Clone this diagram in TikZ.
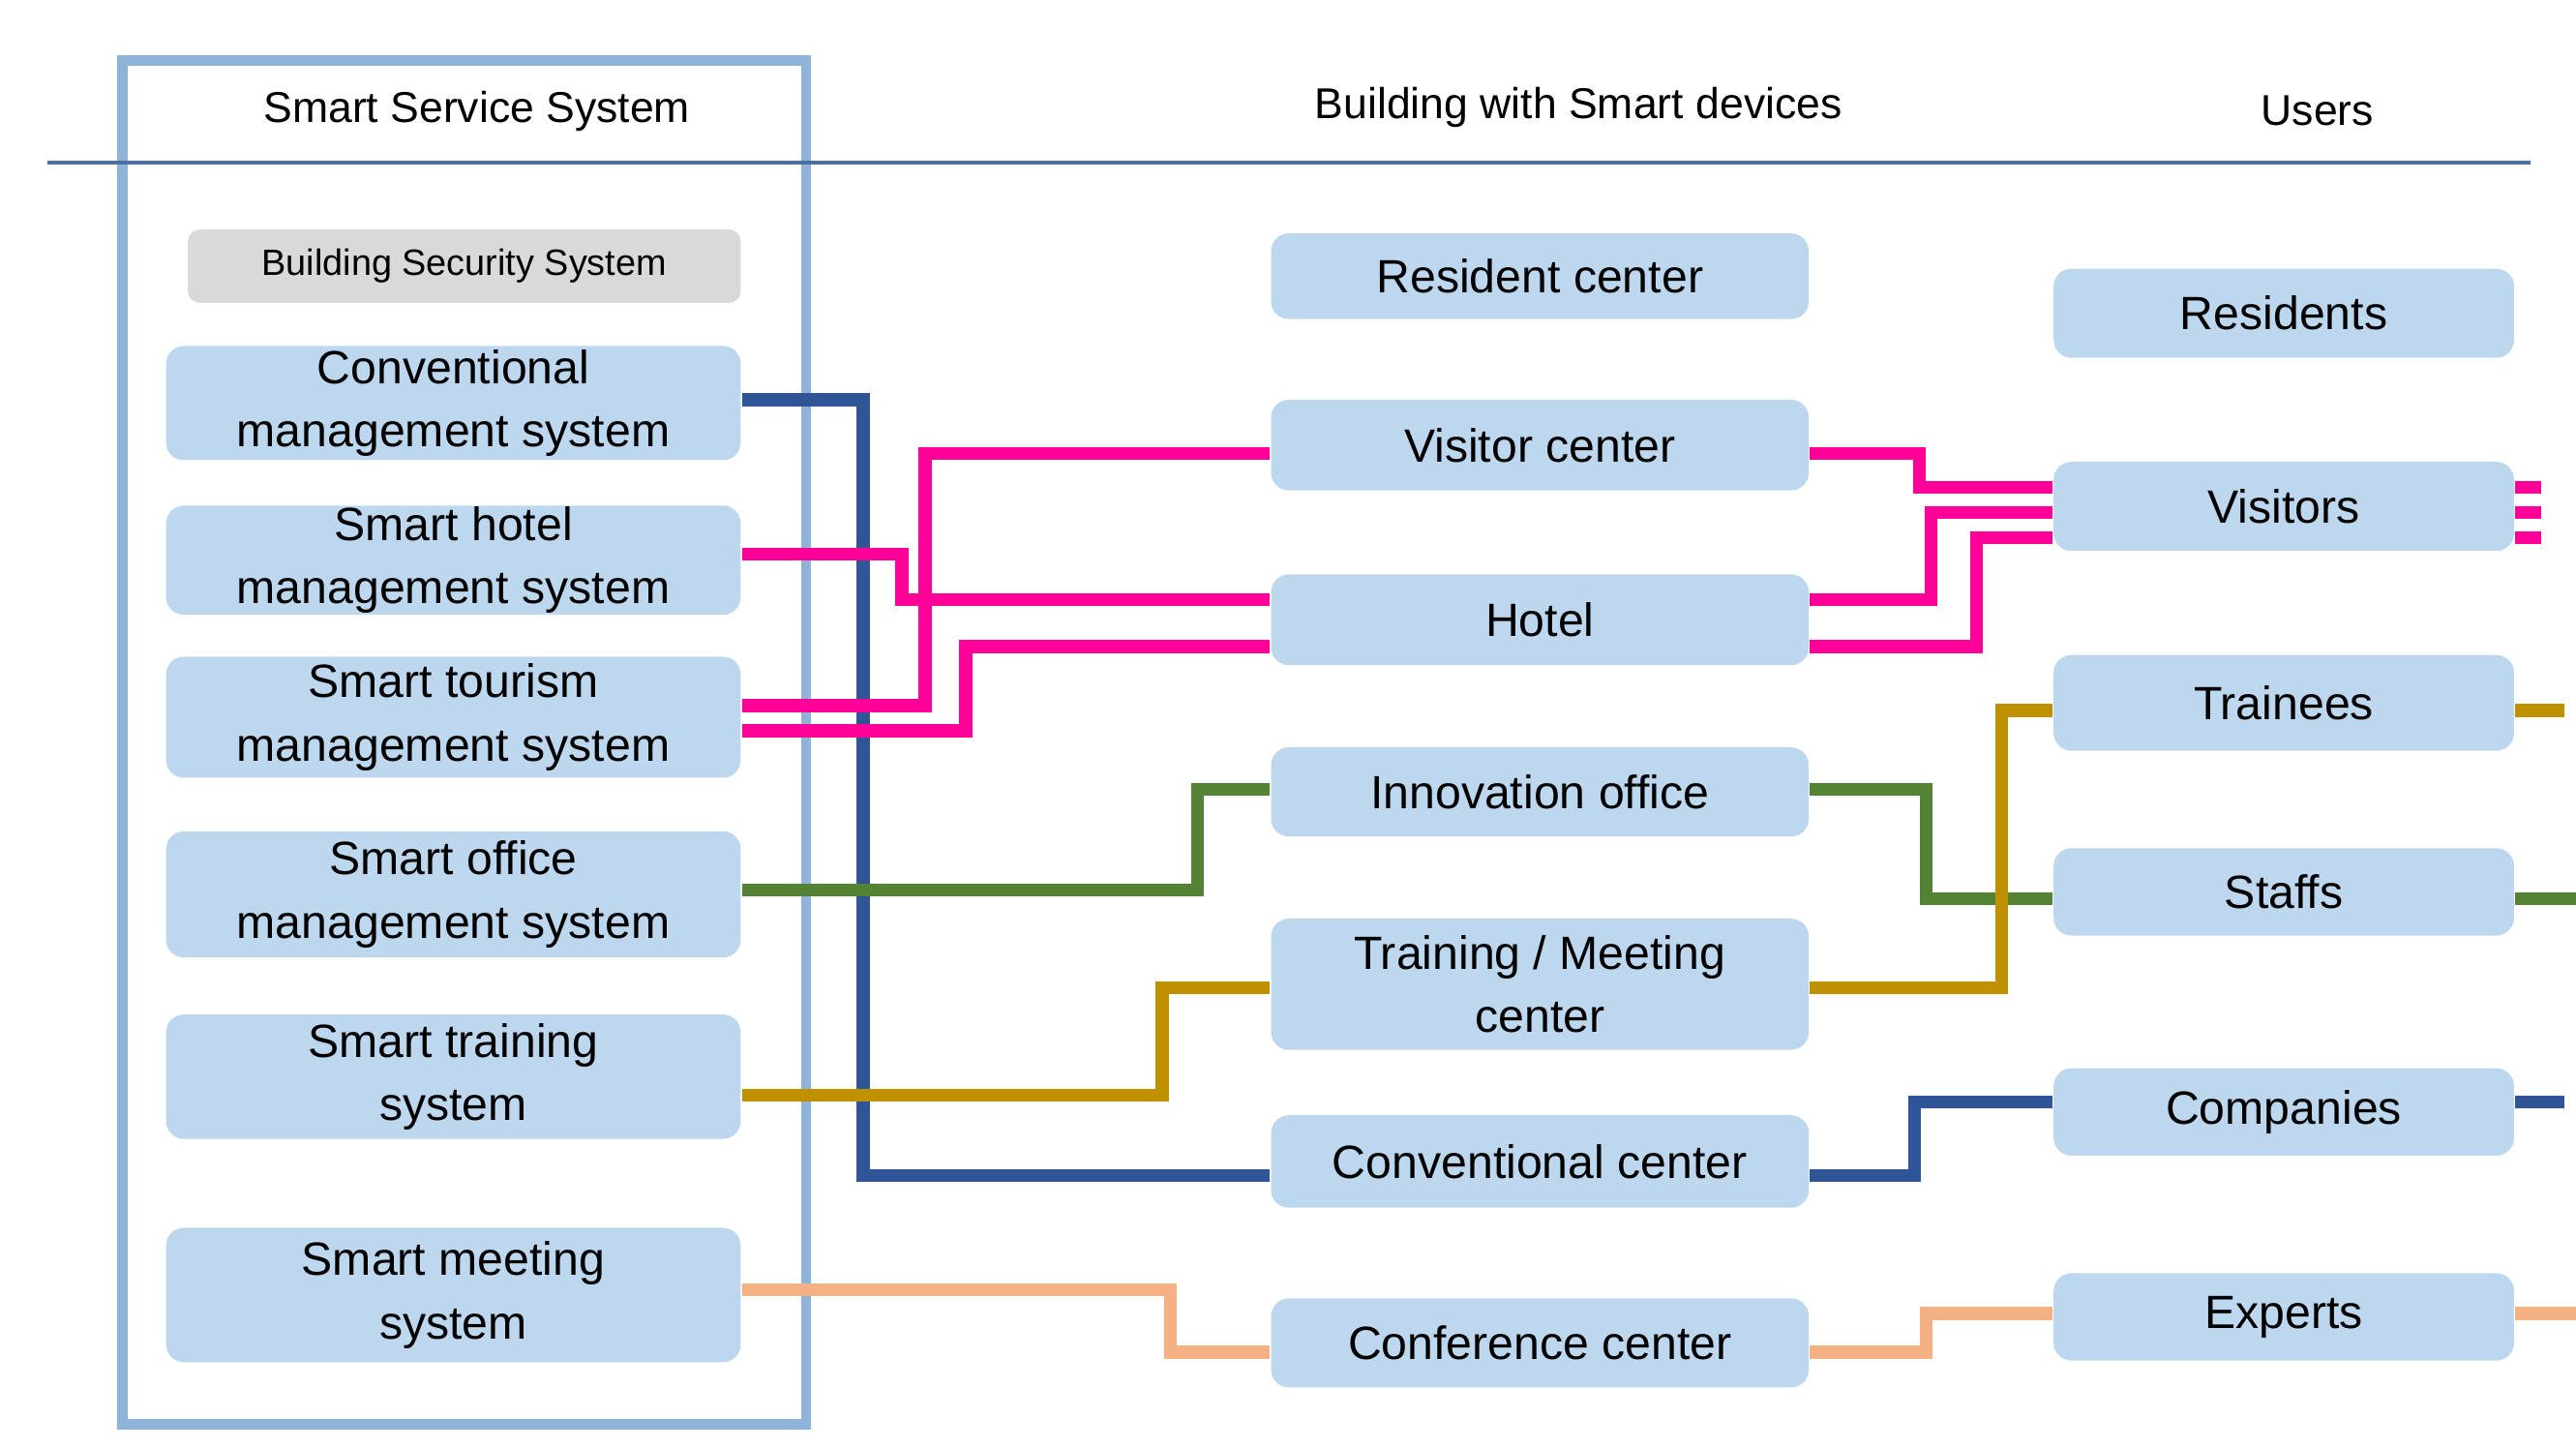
\documentclass[tikz,border=0pt]{standalone}
\usepackage{fontspec}
\setmainfont{Liberation Sans}
\begin{document}
\begin{tikzpicture}[x=0.01cm,y=-0.01cm,
 box/.style={fill=boxblue,rounded corners=3pt,inner sep=0pt,align=center,font=\fontsize{7.9}{10.7}\selectfont},
 con/.style={line width=2.2pt},
 hdr/.style={font=\fontsize{7.3}{9}\selectfont}]
\definecolor{boxblue}{HTML}{BDD7EE}
\definecolor{frameblue}{HTML}{8FB4DA}
\definecolor{navy}{HTML}{2F5597}
\definecolor{pinkc}{HTML}{FF0099}
\definecolor{greenc}{HTML}{548235}
\definecolor{goldc}{HTML}{BF9000}
\definecolor{peach}{HTML}{F4B183}
\definecolor{lineblue}{HTML}{4A6FA0}
\useasboundingbox (0,0) rectangle (1534,862.6);
\draw[frameblue,line width=1.7pt] (73,36) rectangle (480,848);
\draw[lineblue,line width=0.6pt] (28,97) -- (1507,97);
\node[hdr] (h1) at (284,66) {Smart Service System};
\node[hdr] (h2) at (940,64) {Building with Smart devices};
\node[hdr] (h3) at (1380,66) {Users};
\node[fill=gray!30,rounded corners=2pt,minimum width=3.29cm,minimum height=0.39cm,font=\fontsize{6.2}{7}\selectfont] (bss) at (276.5,158.5) {Building Security System};
\newcommand{\lbox}[3]{\node[box,minimum width=3.42cm,minimum height=#2] (#1) at (270,#3)}
\lbox{l1}{0.68cm}{240}{Conventional\\management system};
\lbox{l2}{0.65cm}{333.5}{Smart hotel\\management system};
\lbox{l3}{0.72cm}{427}{Smart tourism\\management system};
\lbox{l4}{0.75cm}{532.5}{Smart office\\management system};
\lbox{l5}{0.74cm}{641}{Smart training\\system};
\lbox{l6}{0.80cm}{771}{Smart meeting\\system};
\newcommand{\midbox}[3]{\node[box,minimum width=3.2cm,minimum height=#2] (#1) at (917,#3)}
\midbox{m1}{0.51cm}{164.5}{Resident  center};
\midbox{m2}{0.54cm}{265}{Visitor center};
\midbox{m3}{0.54cm}{369}{Hotel};
\midbox{m4}{0.53cm}{471.5}{Innovation  office};
\midbox{m5}{0.78cm}{586}{Training / Meeting\\center};
\midbox{m6}{0.55cm}{691.5}{Conventional  center};
\midbox{m7}{0.53cm}{799.5}{Conference  center};
\newcommand{\rbox}[3]{\node[box,minimum width=2.74cm,minimum height=#2] (#1) at (1360,#3)}
\rbox{r1}{0.53cm}{186.5}{Residents};
\rbox{r2}{0.53cm}{301.5}{Visitors};
\rbox{r3}{0.57cm}{418.5}{Trainees};
\rbox{r4}{0.52cm}{531}{Staffs};
\rbox{r5}{0.52cm}{662}{Companies};
\rbox{r6}{0.52cm}{784}{Experts};
\coordinate (s5) at (1527,656);
\coordinate (s2a) at (1513,290);
\coordinate (s2b) at (1513,305);
\coordinate (s2c) at (1513,320);
\coordinate (s4) at (1534,535);
\coordinate (s3) at (1527,423);
\coordinate (s6) at (1534,782);
\draw[con,navy] (l1.east|-0,238) -| (514,700) -- (m6.west|-0,700);
\draw[con,navy] (m6.east|-0,700) -- (1140,700) |- (r5.west|-0,656);
\draw[con,navy] (r5.east|-0,656) -- (s5);
\draw[con,pinkc] (l2.east|-0,330) -- (537,330) |- (m3.west|-0,357);
\draw[con,pinkc] (l3.east|-0,420) -- (551,420) |- (m2.west|-0,270);
\draw[con,pinkc] (l3.east|-0,435) -- (575,435) |- (m3.west|-0,385);
\draw[con,pinkc] (m2.east|-0,270) -- (1143,270) |- (r2.west|-0,290);
\draw[con,pinkc] (m3.east|-0,357) -- (1150,357) |- (r2.west|-0,305);
\draw[con,pinkc] (m3.east|-0,385) -- (1177,385) |- (r2.west|-0,320);
\draw[con,pinkc] (r2.east|-0,290) -- (s2a);
\draw[con,pinkc] (r2.east|-0,305) -- (s2b);
\draw[con,pinkc] (r2.east|-0,320) -- (s2c);
\draw[con,greenc] (l4.east|-0,530) -- (713,530) |- (m4.west|-0,470);
\draw[con,greenc] (m4.east|-0,470) -- (1147,470) |- (r4.west|-0,535);
\draw[con,greenc] (r4.east|-0,535) -- (s4);
\draw[con,goldc] (l5.east|-0,652) -- (692,652) |- (m5.west|-0,588);
\draw[con,goldc] (m5.east|-0,588) -- (1192,588) |- (r3.west|-0,423);
\draw[con,goldc] (r3.east|-0,423) -- (s3);
\draw[con,peach] (l6.east|-0,768) -- (697,768) |- (m7.west|-0,805);
\draw[con,peach] (m7.east|-0,805) -- (1147,805) |- (r6.west|-0,782);
\draw[con,peach] (r6.east|-0,782) -- (s6);
\end{tikzpicture}
\end{document}
